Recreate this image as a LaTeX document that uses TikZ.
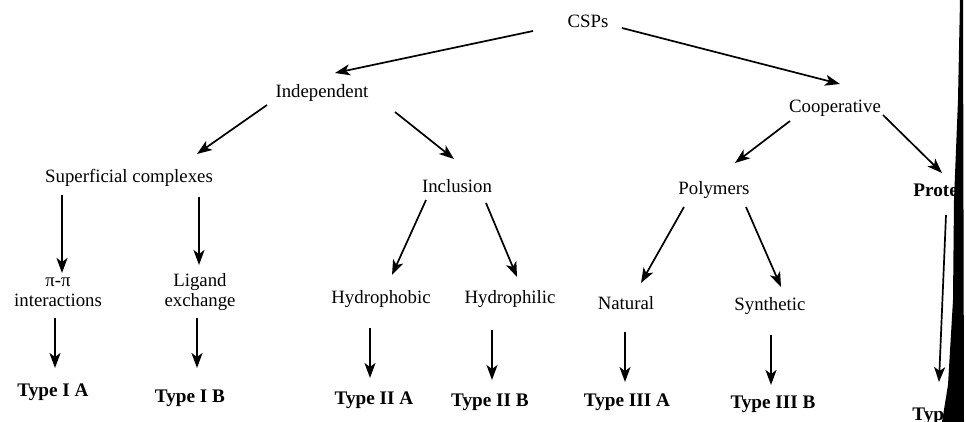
\documentclass[tikz,border=0pt]{standalone}
\usepackage{fontspec}
\setmainfont{Liberation Serif}
\usetikzlibrary{arrows.meta}

\begin{document}
\begin{tikzpicture}[x=0.5pt,y=-0.5pt,
    every node/.style={font=\fontsize{9.4}{10.2}\selectfont, inner sep=0pt},
    typ/.style={font=\fontsize{9.6}{10}\selectfont\bfseries}]

  \useasboundingbox (0,0) rectangle (966,422);

  \node (csps)  at (588,21)  {CSPs};
  \node (indep) at (322,93)  {Independent};
  \node (coop)  at (835,108) {Cooperative};
  \node (sup)   at (129,178) {Superficial complexes};
  \node (incl)  at (457,186) {Inclusion};
  \node (poly)  at (714,190) {Polymers};
  \node[typ, anchor=west] (prot) at (913,190) {Prote};
  \node[align=center] (pipi) at (58,292)  {π-π\\interactions};
  \node[align=center] (lig)  at (200,292) {Ligand\\exchange};
  \node (hphob) at (381,299) {Hydrophobic};
  \node (hphil) at (510,299) {Hydrophilic};
  \node (nat)   at (626,303) {Natural};
  \node (syn)   at (770,306) {Synthetic};

  \node[typ] (t1a) at (53,392)  {Type I A};
  \node[typ] (t1b) at (190,398) {Type I B};
  \node[typ] (t2a) at (374,400) {Type II A};
  \node[typ] (t2b) at (490,402) {Type II B};
  \node[typ] (t3a) at (627,402) {Type III A};
  \node[typ] (t3b) at (773,404) {Type III B};
  \node[typ, anchor=west] (t4) at (912,416) {Typ};

  \begin{scope}[every edge/.style={draw, line width=0.85pt,
      -{Stealth[length=7.5pt,width=5.5pt,inset=2pt]}}]
    \path ([shift={(-55,10)}]csps.center)  edge ([shift={(13,-20)}]indep.center);
    \path ([shift={(34,7)}]csps.center)    edge ([shift={(5,-24)}]coop.center);
    \path ([shift={(-55,12)}]indep.center) edge ([shift={(68,-24)}]sup.center);
    \path ([shift={(73,19)}]indep.center)  edge ([shift={(-3,-27)}]incl.center);
    \path ([shift={(-45,13)}]coop.center)  edge ([shift={(21,-27)}]poly.center);
    \path ([shift={(48,7)}]coop.center)    edge ([shift={(29,-17)}]prot.west);
    \path ([shift={(-67,17)}]sup.center)   edge ([shift={(4,-19)}]pipi.center);
    \path ([shift={(70,19)}]sup.center)    edge ([shift={(-1,-27)}]lig.center);
    \path ([shift={(-31,14)}]incl.center)  edge ([shift={(11,-24)}]hphob.center);
    \path ([shift={(29,17)}]incl.center)   edge ([shift={(7,-22)}]hphil.center);
    \path ([shift={(-30,17)}]poly.center)  edge ([shift={(15,-20)}]nat.center);
    \path ([shift={(32,17)}]poly.center)   edge ([shift={(11,-19)}]syn.center);
    \path ([shift={(33,25)}]prot.west)     edge ([shift={(27,-34)}]t4.west);
    \path ([shift={(-3,26)}]pipi.center)   edge ([shift={(2,-24)}]t1a.center);
    \path ([shift={(-3,26)}]lig.center)    edge ([shift={(7,-30)}]t1b.center);
    \path ([shift={(-11,29)}]hphob.center) edge ([shift={(-4,-22)}]t2a.center);
    \path ([shift={(-18,31)}]hphil.center) edge ([shift={(2,-22)}]t2b.center);
    \path ([shift={(-1,29)}]nat.center)    edge ([shift={(-2,-20)}]t3a.center);
    \path ([shift={(1,29)}]syn.center)     edge ([shift={(-2,-19)}]t3b.center);
  \end{scope}

  % dark edge of the scanned page
  \fill (960,0) -- (963,0) -- (964,422) -- (942,422) -- (948,385)
    -- (953,300) -- (954,200) -- (958,100) -- cycle;

\end{tikzpicture}
\end{document}
